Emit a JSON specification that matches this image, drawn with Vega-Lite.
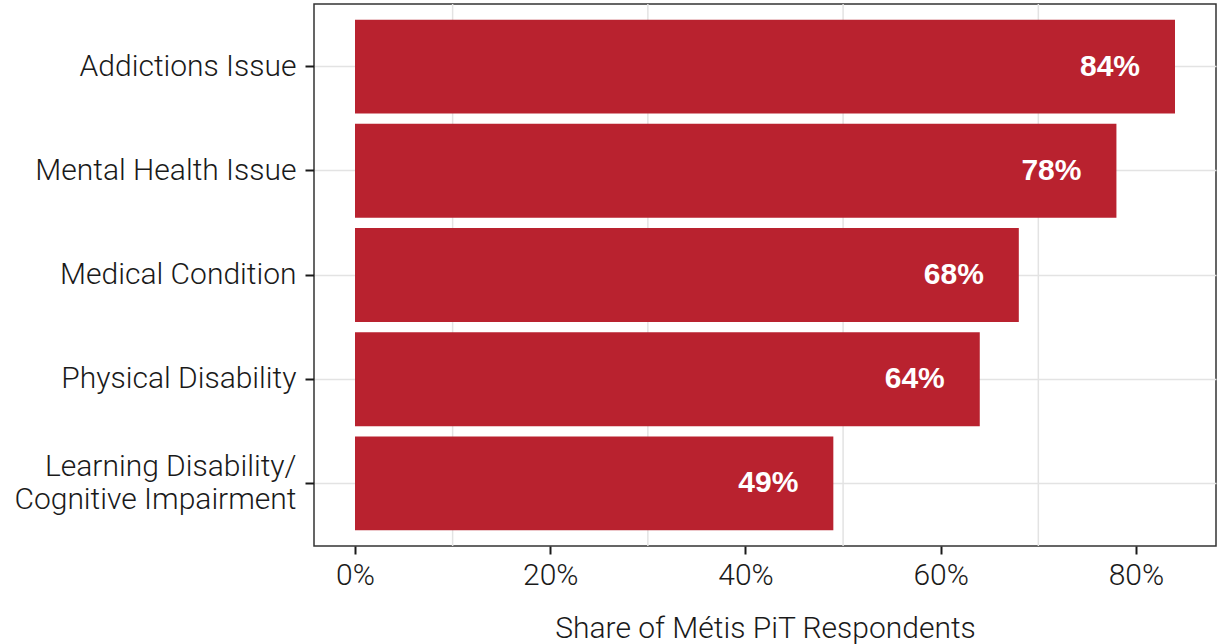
{
  "$schema": "https://vega.github.io/schema/vega-lite/v6.json",
  "width": 902,
  "height": 542,
  "autosize": {"type": "none"},
  "padding": {"left": 314, "top": 4, "right": 1, "bottom": 98},
  "background": "white",
  "config": {
    "view": {"stroke": "#333333", "strokeWidth": 1.5},
    "axis": {
      "labelFont": "Roboto",
      "labelFontWeight": 300,
      "labelFontSize": 30,
      "labelColor": "#1a1a1a",
      "labelLimit": 0,
      "titleFont": "Roboto",
      "titleFontWeight": 300,
      "titleFontSize": 30,
      "titleColor": "#1a1a1a",
      "tickColor": "#1a1a1a",
      "tickWidth": 2,
      "domain": false
    }
  },
  "datasets": {
    "bars": [
      {"category": "Addictions Issue", "share": 84, "label": "84%"},
      {"category": "Mental Health Issue", "share": 78, "label": "78%"},
      {"category": "Medical Condition", "share": 68, "label": "68%"},
      {"category": "Physical Disability", "share": 64, "label": "64%"},
      {"category": "Learning Disability/\nCognitive Impairment", "share": 49, "label": "49%"}
    ],
    "grid": [{"g": 10}, {"g": 30}, {"g": 50}, {"g": 70}]
  },
  "layer": [
    {
      "data": {"name": "grid"},
      "mark": {"type": "rule", "color": "#e3e3e3", "strokeWidth": 1.5},
      "encoding": {
        "x": {
          "field": "g", "type": "quantitative",
          "scale": {"domain": [-4.2, 88.2], "nice": false, "zero": false},
          "axis": {
            "values": [0, 20, 40, 60, 80],
            "labelExpr": "datum.value + '%'",
            "grid": false,
            "tickSize": 8,
            "labelPadding": 6,
            "title": "Share of Métis PiT Respondents",
            "titlePadding": 23
          }
        }
      }
    },
    {
      "data": {"name": "bars"},
      "layer": [
        {
          "mark": {"type": "bar", "color": "#b9222f"},
          "encoding": {
            "y": {
              "field": "category", "type": "nominal", "sort": null,
              "scale": {"paddingInner": 0.1, "paddingOuter": 0.15},
              "axis": {
                "title": null,
                "labelExpr": "split(datum.value, '\\n')",
                "labelLineHeight": 33,
                "labelOffset": {"condition": {"test": "indexof(datum.value, '\\n') >= 0", "value": -16}, "value": 0},
                "tickSize": 9,
                "labelPadding": 9,
                "grid": true,
                "gridColor": "#e3e3e3",
                "gridWidth": 1.5,
                "bandPosition": 0.5
              }
            },
            "x": {
              "field": "share", "type": "quantitative",
              "axis": {
                "values": [0, 20, 40, 60, 80],
                "labelExpr": "datum.value + '%'",
                "grid": false,
                "tickSize": 8,
                "labelPadding": 6,
                "title": "Share of Métis PiT Respondents",
                "titlePadding": 23
              }
            },
            "x2": {"datum": 0}
          }
        },
        {
          "mark": {"type": "text", "color": "white", "font": "Liberation Sans", "fontWeight": "bold", "fontSize": 30, "align": "right", "baseline": "middle", "dx": -35},
          "encoding": {
            "y": {"field": "category", "type": "nominal", "sort": null},
            "x": {"field": "share", "type": "quantitative"},
            "text": {"field": "label"}
          }
        }
      ]
    }
  ]
}
